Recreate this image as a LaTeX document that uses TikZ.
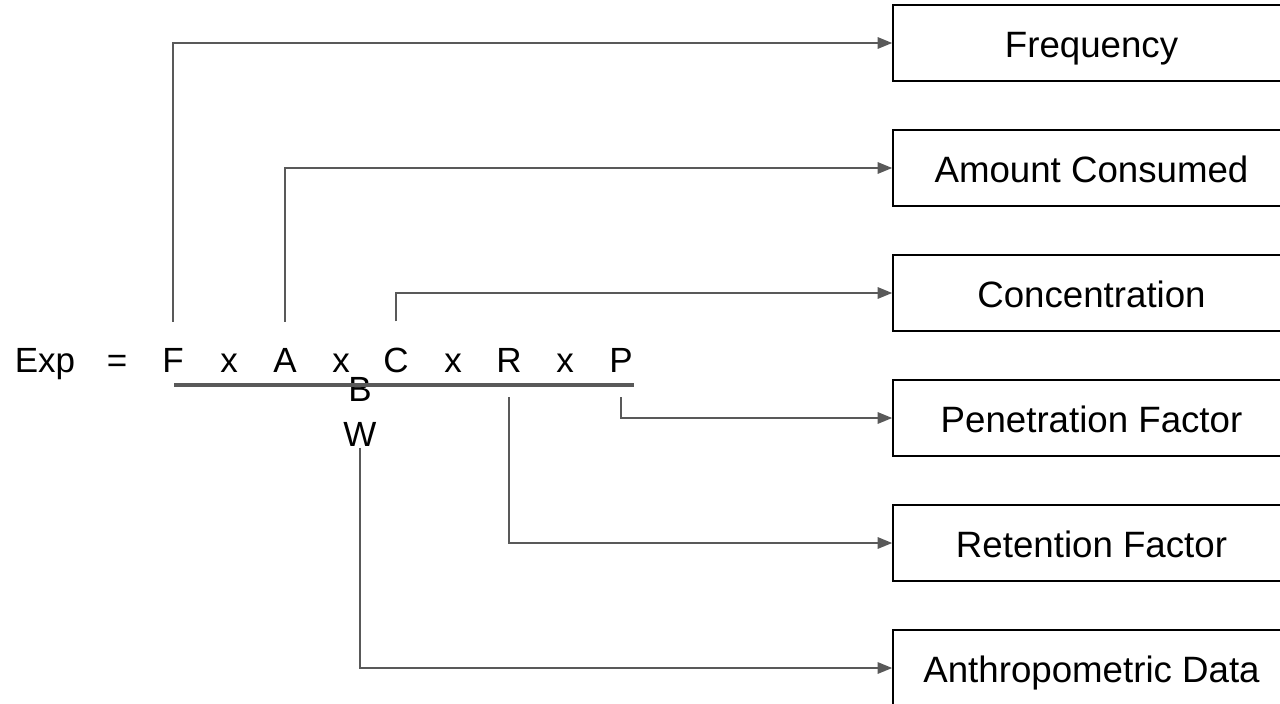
\documentclass[tikz,border=0pt]{standalone}
\usepackage{fontspec}
\setmainfont{Liberation Sans}
\usetikzlibrary{arrows.meta}
\definecolor{lc}{HTML}{595959}
\begin{document}
\begin{tikzpicture}[x=0.75pt,y=-0.75pt,
  txt/.style={font=\fontsize{26.25}{33.75}\selectfont},
  box/.style={font=\fontsize{27.5}{33}\selectfont,draw=black,line width=1.1pt,minimum width=297.75pt,minimum height=57pt,
              inner sep=0pt,text height=21pt,text depth=0pt},
  sym/.style={txt,inner sep=0pt,anchor=base},
  conn/.style={draw=lc,line width=1.6pt,-{Triangle[length=11pt,width=8.5pt]}},
  bar/.style={draw=lc,line width=2.4pt}]
\clip (0,0) rectangle (1280,703);
\useasboundingbox (0,0) rectangle (1280,703);

% boxes
\node[box] (freq) at (1091.5,43)  {Frequency};
\node[box] (amt)  at (1091.5,168) {Amount Consumed};
\node[box] (conc) at (1091.5,293) {Concentration};
\node[box] (pen)  at (1091.5,418) {Penetration Factor};
\node[box] (ret)  at (1091.5,543) {Retention Factor};
\node[box] (anth) at (1091.5,668) {Anthropometric Data};

% formula
\node[sym] (exp) at (45,372)  {Exp};
\node[sym] (eq)  at (117,372) {=};
\node[sym] (F)   at (173,372) {F};
\node[sym] (x1)  at (229,372) {x};
\node[sym] (A)   at (285,372) {A};
\node[sym] (x2)  at (341,372) {x};
\node[sym] (C)   at (396,372) {C};
\node[sym] (x3)  at (453,372) {x};
\node[sym] (R)   at (509,372) {R};
\node[sym] (x4)  at (565,372) {x};
\node[sym] (P)   at (621,372) {P};
\node[txt,inner sep=0pt,align=center,text depth=0pt] (BW) at (360,412) {B\\W};

\coordinate (u1) at (174,385);
\coordinate (u2) at (634,385);
\draw[bar] (u1) -- (u2);

% connectors
\draw[conn] ([yshift=19.5pt]F.north) |- (freq.west);
\draw[conn] ([yshift=19.5pt]A.north) |- (amt.west);
\draw[conn] ([yshift=19.5pt]C.north) |- (conc.west);
\draw[conn] ([yshift=-18.75pt]P.south) |- (pen.west);
\draw[conn] ([yshift=-18.75pt]R.south) |- (ret.west);
\draw[conn] ([yshift=-0.75pt]BW.south) |- (anth.west);
\end{tikzpicture}
\end{document}
